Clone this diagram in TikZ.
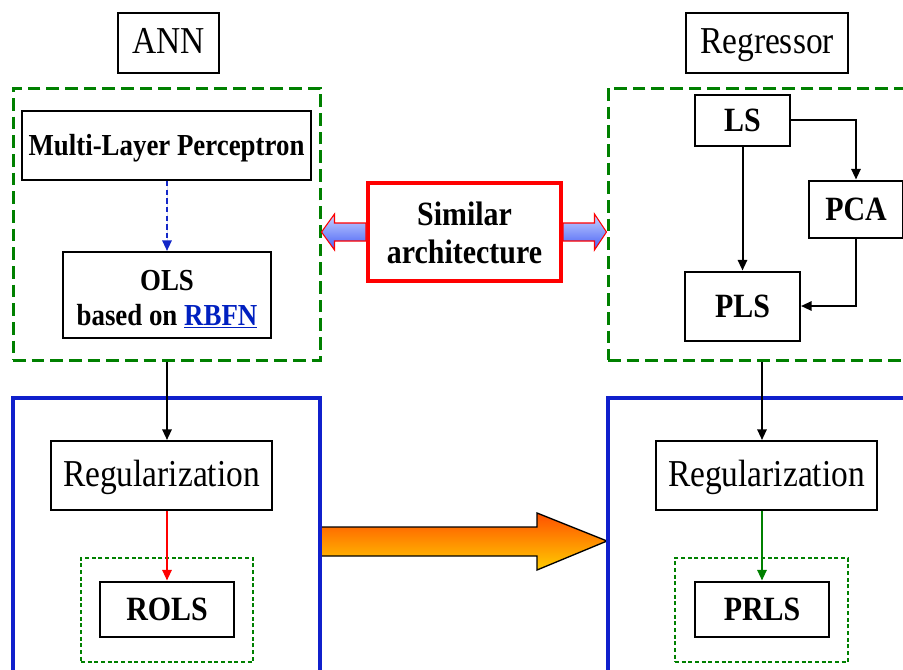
\documentclass[tikz,border=0pt]{standalone}
\usepackage{fontspec}
\setmainfont[FakeStretch=0.88]{Liberation Serif}
\usetikzlibrary{arrows.meta,calc}

\definecolor{grn}{RGB}{0,128,0}
\definecolor{blu}{RGB}{16,32,204}
\definecolor{linkblue}{RGB}{0,32,192}
\definecolor{dblue}{RGB}{20,40,200}

\tikzset{
  box/.style={draw=black, line width=1.5pt, fill=white, inner sep=0pt, align=center},
  regfont/.style={font=\fontsize{28.5}{30}\selectfont, text height=18.8pt, text depth=2.8pt},
  smallbold/.style={font=\fontsize{22.9}{26}\selectfont\bfseries},
  smallline/.style={text height=15.1pt, text depth=0pt},
  bigbold/.style={font=\fontsize{25.5}{28.5}\selectfont\bfseries},
  bigline/.style={text height=16.8pt, text depth=0pt},
  group/.style={draw=grn, line width=2.25pt, dash pattern=on 9.5pt off 4.5pt, inner sep=0pt},
  subgroup/.style={draw=grn, line width=1.1pt, dash pattern=on 3pt off 2pt, inner sep=0pt},
  frame/.style={draw=blu, line width=3pt, inner sep=0pt},
  flow/.style={line width=1.5pt, -{Triangle[length=8pt,width=7pt]}},
}

\begin{document}
\begin{tikzpicture}[x=0.75pt,y=-0.75pt]
\useasboundingbox (0,0) rectangle (903,669);
\clip (0,0) rectangle (903,669);

% headings
\node[box, regfont, minimum width=101*0.75pt, minimum height=60*0.75pt] (ann) at (168.5,43) {ANN};
\node[box, regfont, minimum width=162*0.75pt, minimum height=60*0.75pt] (reg) at (767,43) {Regressor};

% orange transfer arrow between the two lower frames
\shade[top color={rgb,255:red,255;green,80;blue,0}, bottom color={rgb,255:red,255;green,205;blue,0},
       draw=black, line width=1pt]
  (320,527) -- (537,527) -- (537,513) -- (607,541) -- (537,570) -- (537,556) -- (320,556) -- cycle;

% lower frames
\node[frame, minimum width=307*0.75pt, minimum height=302*0.75pt] (bluel) at (166.5,549) {};
\node[frame, minimum width=322*0.75pt, minimum height=302*0.75pt] (bluer) at (769,549) {};

% upper dashed groups
\node[group, minimum width=307*0.75pt, minimum height=272*0.75pt] (annbox) at (166.5,224) {};
\node[group, minimum width=312*0.75pt, minimum height=272*0.75pt] (regbox) at (764,224) {};

% ANN side
\node[box, smallbold, smallline, minimum width=289*0.75pt, minimum height=69*0.75pt] (mlp) at (166.5,145.5) {Multi-Layer Perceptron};
\node[box, smallbold, minimum width=208*0.75pt, minimum height=86*0.75pt] (ols) at (167,295) {};
\node[smallbold, inner sep=0pt, align=center, anchor=base] at (ols.center |- 0,290) {OLS};
\node[smallbold, inner sep=0pt, align=center, anchor=base] at (ols.center |- 0,325) {based on {\color{linkblue}\underline{RBFN}}};

% regressor side
\node[box, bigbold, bigline, minimum width=95*0.75pt, minimum height=51*0.75pt] (ls) at (742.5,120) {LS};
\node[box, bigbold, bigline, minimum width=94*0.75pt, minimum height=57*0.75pt] (pca) at (856,209) {PCA};
\node[box, bigbold, bigline, minimum width=115*0.75pt, minimum height=69*0.75pt] (pls) at (742.5,306) {PLS};

% middle label
\node[box, draw=red, line width=3pt, minimum width=193*0.75pt, minimum height=98*0.75pt] (sim) at (464.5,232) {};
\node[bigbold, inner sep=0pt, anchor=base] at (sim.center |- 0,225) {Similar};
\node[bigbold, inner sep=0pt, anchor=base] at (sim.center |- 0,263) {architecture};

% regularization stages
\node[box, regfont, minimum width=221*0.75pt, minimum height=69*0.75pt] (regl) at (161.5,475.5) {Regularization};
\node[box, regfont, minimum width=221*0.75pt, minimum height=69*0.75pt] (regr) at (766.5,475.5) {Regularization};

\node[subgroup, minimum width=172*0.75pt, minimum height=104*0.75pt] (dotl) at (167,610) {};
\node[subgroup, minimum width=173*0.75pt, minimum height=104*0.75pt] (dotr) at (761.5,610) {};
\node[box, bigbold, bigline, minimum width=134*0.75pt, minimum height=55*0.75pt] (rols) at (167,609) {ROLS};
\node[box, bigbold, bigline, minimum width=134*0.75pt, minimum height=55*0.75pt] (prls) at (762,609) {PRLS};

% block double arrow out of the middle label
\tikzset{dbl/.style={top color={rgb,255:red,200;green,212;blue,255}, bottom color={rgb,255:red,70;green,95;blue,245},
  draw=red, line width=0.8pt}}
\shade[dbl]
  ($(sim.west)+(0,-9)$) -- ($(annbox.east |- sim.west)+(13,-9)$) -- ($(annbox.east |- sim.west)+(13,-18)$)
  -- (annbox.east |- sim.west) -- ($(annbox.east |- sim.west)+(13,18)$) -- ($(annbox.east |- sim.west)+(13,9)$)
  -- ($(sim.west)+(0,9)$) -- cycle;
\shade[dbl]
  ($(sim.east)+(0,-9)$) -- ($(regbox.west |- sim.east)+(-12,-9)$) -- ($(regbox.west |- sim.east)+(-12,-18)$)
  -- (regbox.west |- sim.east) -- ($(regbox.west |- sim.east)+(-12,18)$) -- ($(regbox.west |- sim.east)+(-12,9)$)
  -- ($(sim.east)+(0,9)$) -- cycle;

% connectors
\draw[flow, draw=dblue, fill=dblue, line width=1.5pt, dash pattern=on 4pt off 2.5pt] (mlp.south -| ols.north) -- (ols.north);
\draw[flow] (ls.south) -- (ls.south |- pls.north);
\draw[flow] (ls.east) -- (pca.north |- ls.east) -- (pca.north);
\draw[flow] (pca.south) -- (pca.south |- pls.east) -- (pls.east);
\draw[flow] (rols.north |- annbox.south) -- (rols.north |- regl.north);
\draw[flow] (prls.north |- regbox.south) -- (prls.north |- regr.north);
\draw[flow, draw=red, fill=red] (rols.north |- regl.south) -- (rols.north);
\draw[flow, draw=grn, fill=grn] (prls.north |- regr.south) -- (prls.north);
\end{tikzpicture}
\end{document}
